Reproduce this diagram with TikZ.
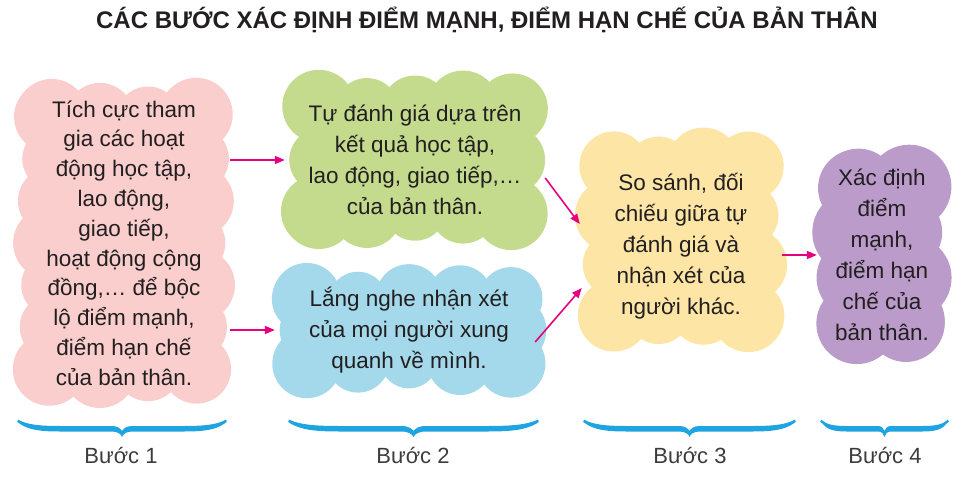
\documentclass[tikz,border=0pt]{standalone}
\usepackage{fontspec}
\setmainfont{Liberation Sans}
\usetikzlibrary{arrows.meta,backgrounds,calc}
\definecolor{cpink}{RGB}{249,206,205}
\definecolor{cgreen}{RGB}{196,219,142}
\definecolor{cblue}{RGB}{164,217,235}
\definecolor{cyellow}{RGB}{253,229,166}
\definecolor{cpurple}{RGB}{186,155,202}
\definecolor{arrowmag}{RGB}{230,0,126}
\definecolor{bracebl}{RGB}{30,165,225}
\definecolor{txt}{RGB}{35,31,32}
\definecolor{lbl}{RGB}{60,60,60}
\tikzset{
  cloudbox/.style={inner sep=0pt, align=center, text=txt,
    font=\fontsize{22.5}{31}\selectfont},
  flow/.style={draw=arrowmag, line width=1.6pt, -{Triangle[length=10pt,width=8pt]}},
  steplabel/.style={anchor=base, text=lbl, font=\fontsize{22}{26}\selectfont},
}
% cloud background: node name, colour, radius, nx, ny, seed
\newcommand\cloudbg[6]{%
  \path (#1.south west); \pgfgetlastxy{\cxa}{\cya}%
  \path (#1.north east); \pgfgetlastxy{\cxb}{\cyb}%
  \pgfmathsetmacro\ax{\cxa+#3}\pgfmathsetmacro\bx{\cxb-#3}%
  \pgfmathsetmacro\ay{\cya+#3}\pgfmathsetmacro\by{\cyb-#3}%
  \fill[#2] (\ax,\ay) rectangle (\bx,\by);
  \foreach \i in {0,...,#4}{%
    \pgfmathsetmacro\xx{\ax+(\bx-\ax)*\i/#4}%
    \pgfmathsetmacro\ra{#3+2.5*sin(\i*97+#6)}%
    \pgfmathsetmacro\rb{#3+2.5*sin(\i*131+#6+40)}%
    \fill[#2] (\xx,\ay+#3-\ra) circle (\ra);
    \fill[#2] (\xx,\by-#3+\rb) circle (\rb);}
  \foreach \j in {0,...,#5}{%
    \pgfmathsetmacro\yy{\ay+(\by-\ay)*\j/#5}%
    \pgfmathsetmacro\rc{#3+2.5*sin(\j*113+#6+80)}%
    \pgfmathsetmacro\rd{#3+2.5*sin(\j*149+#6+160)}%
    \fill[#2] (\ax+#3-\rc,\yy) circle (\rc);
    \fill[#2] (\bx-#3+\rd,\yy) circle (\rd);}
}
% calligraphic brace: xa, xb
\newcommand\cbrace[2]{%
  \pgfmathsetmacro\bxa{#1}\pgfmathsetmacro\bxb{#2}%
  \pgfmathsetmacro\bxm{(#1+#2)/2}\pgfmathsetmacro\bh{(#2-#1)/2}%
  \fill[bracebl] (\bxa,60.5)
    .. controls (\bxa+0.08*\bh,55.5) and (\bxa+0.2*\bh,54) .. (\bxa+0.4*\bh,54)
    -- (\bxm-0.1*\bh,54)
    .. controls (\bxm-0.04*\bh,54) and (\bxm-0.015*\bh,51.5) .. (\bxm,49)
    .. controls (\bxm+0.015*\bh,51.5) and (\bxm+0.04*\bh,54) .. (\bxm+0.1*\bh,54)
    -- (\bxb-0.4*\bh,54)
    .. controls (\bxb-0.2*\bh,54) and (\bxb-0.08*\bh,55.5) .. (\bxb,60.5)
    .. controls (\bxb+1.8,59.5) and (\bxb+0.8,56.5) .. (\bxb-1.5,56.5)
    .. controls (\bxb-0.1*\bh,50) and (\bxb-0.22*\bh,48.5) .. (\bxb-0.4*\bh,48.5)
    -- (\bxm+0.1*\bh,48.5)
    .. controls (\bxm+0.04*\bh,48.5) and (\bxm+0.01*\bh,46) .. (\bxm,43)
    .. controls (\bxm-0.01*\bh,46) and (\bxm-0.04*\bh,48.5) .. (\bxm-0.1*\bh,48.5)
    -- (\bxa+0.4*\bh,48.5)
    .. controls (\bxa+0.22*\bh,48.5) and (\bxa+0.1*\bh,50) .. (\bxa+1.5,56.5)
    .. controls (\bxa-0.8,56.5) and (\bxa-1.8,59.5) .. (\bxa,60.5) -- cycle;
}
\begin{document}
\begin{tikzpicture}[x=1pt,y=1pt]
\useasboundingbox (0,0) rectangle (975,480);

\node[anchor=base, text=txt, font=\fontsize{24}{28}\selectfont\bfseries] (title) at (487,451)
  {CÁC BƯỚC XÁC ĐỊNH ĐIỂM MẠNH, ĐIỂM HẠN CHẾ CỦA BẢN THÂN};

\node[cloudbox, minimum width=212pt, minimum height=320pt,
      font=\fontsize{22.5}{29.8}\selectfont] (s1) at (124,237)
  {Tích cực tham\\gia các hoạt\\động học tập,\\lao động,\\giao tiếp,\\hoạt động cộng\\đồng,\dots{} để bộc\\lộ điểm mạnh,\\điểm hạn chế\\của bản thân.};
\node[cloudbox, minimum width=260pt, minimum height=170pt] (s2a) at (415,320)
  {Tự đánh giá dựa trên\\kết quả học tập,\\lao động, giao tiếp,\dots\\của bản thân.};
\node[cloudbox, minimum width=268pt, minimum height=126pt] (s2b) at (409,150)
  {Lắng nghe nhận xét\\của mọi người xung\\quanh về mình.};
\node[cloudbox, minimum width=202pt, minimum height=215pt] (s3) at (681,240)
  {\mbox{}\\[-2pt]So sánh, đối\\chiếu giữa tự\\đánh giá và\\nhận xét của\\người khác.};
\node[cloudbox, minimum width=130pt, minimum height=216pt] (s4) at (882,225)
  {Xác định\\điểm\\mạnh,\\điểm hạn\\chế của\\bản thân.};

\begin{scope}[on background layer]
  \cloudbg{s1}{cpink}{34}{3}{6}{10}
  \cloudbg{s2a}{cgreen}{34}{4}{2}{50}
  \cloudbg{s2b}{cblue}{32}{4}{2}{90}
  \cloudbg{s3}{cyellow}{34}{3}{3}{130}
  \cloudbg{s4}{cpurple}{40}{1}{3}{170}
\end{scope}

\draw[flow] (s1.east |- s2a.west) -- (s2a.west);
\draw[flow] (s1.east |- s2b.west) -- (s2b.west);
\draw[flow] ([yshift=-18pt]s2a.east) -- ([yshift=16pt]s3.west);
\draw[flow] ([xshift=-8pt,yshift=-12pt]s2b.east) -- ([xshift=2pt,yshift=-48pt]s3.west);
\draw[flow] (s4.west -| s3.east) -- (s4.west);

\cbrace{18}{226}
\cbrace{289}{538}
\cbrace{584}{795}
\cbrace{821}{948}

\node[steplabel] (b1) at (121,17) {Bước 1};
\node[steplabel] (b2) at (413,17) {Bước 2};
\node[steplabel] (b3) at (690,17) {Bước 3};
\node[steplabel] (b4) at (885,17) {Bước 4};
\end{tikzpicture}
\end{document}
